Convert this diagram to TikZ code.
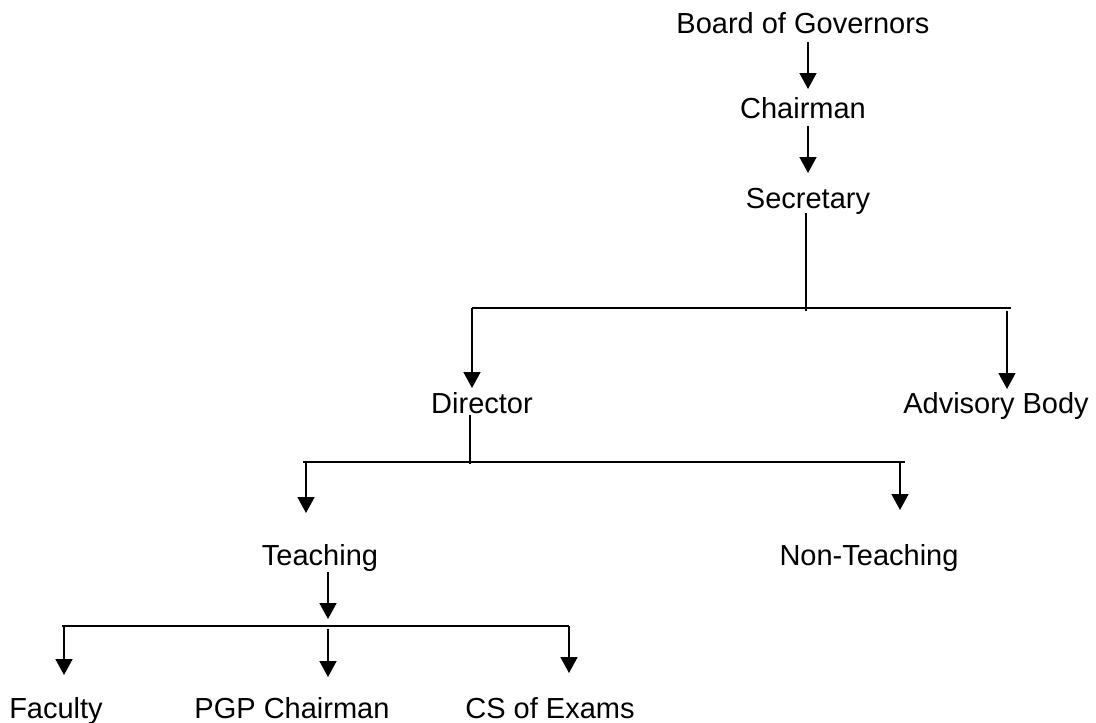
\documentclass[tikz,border=0pt]{standalone}
\usepackage{fontspec}
\setmainfont{Liberation Sans}
\usetikzlibrary{arrows.meta}
\begin{document}
\begin{tikzpicture}[x=1pt,y=-1pt,
  lbl/.style={anchor=base,inner sep=0pt,font=\fontsize{29}{34}\selectfont},
  ln/.style={line width=1.6pt},
  arr/.style={line width=1.6pt,-{Triangle[width=17pt,length=16pt]}}]
\useasboundingbox (0,0) rectangle (1096,723);
% nodes
\node[lbl] (board) at (803,33) {Board of Governors};
\node[lbl] (chair) at (803,118) {Chairman};
\node[lbl] (sec) at (808,208) {Secretary};
\node[lbl] (dir) at (482,413) {Director};
\node[lbl] (adv) at (996,413) {Advisory Body};
\node[lbl] (teach) at (320,565) {Teaching};
\node[lbl] (nonteach) at (869,565) {Non-Teaching};
\node[lbl] (fac) at (56,718) {Faculty};
\node[lbl] (pgp) at (292,718) {PGP Chairman};
\node[lbl] (cs) at (550,718) {CS of Exams};
% junction coordinates
\coordinate (j1) at (806,311);
\coordinate (b1l) at (472,308);
\coordinate (b1r) at (1011,308);
\coordinate (a1) at (1007,311);
\coordinate (j2) at (470,464);
\coordinate (b2l) at (303,462);
\coordinate (b2r) at (905,462);
\coordinate (t1) at (306,463);
\coordinate (n1) at (900,463);
\coordinate (j3) at (328,619);
\coordinate (b3l) at (62,626);
\coordinate (b3r) at (569,626);
\coordinate (f1) at (64,626);
\coordinate (p1) at (328,629);
% connectors
\draw[arr] ([xshift=5pt,yshift=-9pt]board.base) -- ([xshift=5pt,yshift=29pt]chair.base);
\draw[arr] ([xshift=5pt,yshift=-8pt]chair.base) -- ([yshift=35pt]sec.base);
\draw[ln] ([xshift=-2pt,yshift=-5pt]sec.base) -- (j1);
\draw[ln] (b1l) -- (b1r);
\draw[arr] (b1l) -- ([xshift=-10pt,yshift=25pt]dir.base);
\draw[arr] (a1) -- ([xshift=11pt,yshift=24pt]adv.base);
\draw[ln] ([xshift=-12pt,yshift=-2pt]dir.base) -- (j2);
\draw[ln] (b2l) -- (b2r);
\draw[arr] (t1) -- ([xshift=-14pt,yshift=52pt]teach.base);
\draw[arr] (n1) -- ([xshift=31pt,yshift=55pt]nonteach.base);
\draw[arr] ([xshift=8pt,yshift=-7pt]teach.base) -- (j3);
\draw[ln] (b3l) -- (b3r);
\draw[arr] (f1) -- ([xshift=8pt,yshift=43pt]fac.base);
\draw[arr] (p1) -- ([xshift=36pt,yshift=41pt]pgp.base);
\draw[arr] (b3r) -- ([xshift=19pt,yshift=45pt]cs.base);
\end{tikzpicture}
\end{document}
